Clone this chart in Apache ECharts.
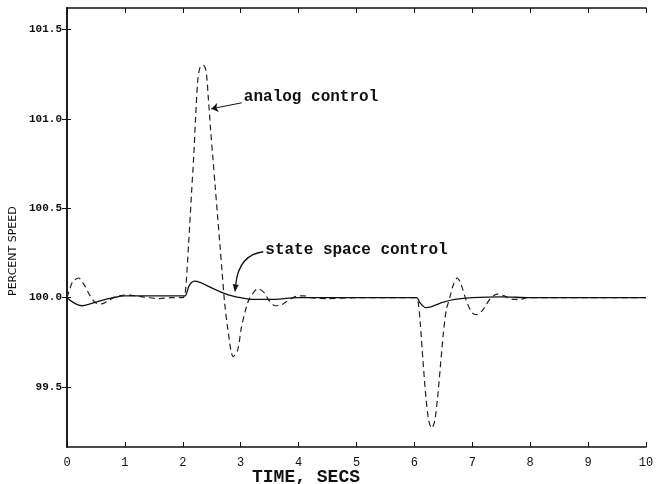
<!DOCTYPE html>
<html>
<head>
<meta charset="utf-8">
<script src="https://cdn.jsdelivr.net/npm/echarts@6/dist/echarts.min.js"></script>
<style>
html,body{margin:0;padding:0;background:#fff;}
#chart{width:666px;height:484px;}
</style>
</head>
<body>
<div id="chart"></div>
<script>
// time (s), percent speed
var analogTime = [0, 0.05, 0.1, 0.2, 0.3, 0.4, 0.5, 0.6, 0.7, 0.8, 0.9, 1.0, 1.2, 1.4, 1.6, 1.8, 2.0,
  2.04, 2.1, 2.15, 2.19, 2.22, 2.26, 2.3, 2.35, 2.4, 2.44, 2.48, 2.52, 2.56, 2.6, 2.64, 2.68, 2.72, 2.78, 2.87,
  2.95, 3.01, 3.1, 3.16, 3.3, 3.4, 3.5, 3.6, 3.7, 3.8, 3.9, 4.0, 4.1, 4.2, 4.5, 5.0, 5.5, 6.0,
  6.06, 6.1, 6.15, 6.2, 6.25, 6.3, 6.35, 6.4, 6.45, 6.5, 6.55, 6.61, 6.67, 6.74, 6.8, 6.9, 7.0, 7.08,
  7.2, 7.3, 7.43, 7.55, 7.7, 7.82, 7.95, 8.5, 9, 10];
var analogSpeed = [100.0, 100.05, 100.09, 100.11, 100.07, 100.01, 99.97, 99.965, 99.98, 100.0, 100.01, 100.015, 100.01, 100.0, 99.995, 100.0, 100.0,
  100.02, 100.3, 100.58, 100.8, 101.0, 101.22, 101.29, 101.30, 101.27, 101.12, 100.94, 100.78, 100.62, 100.46, 100.30, 100.14, 99.98, 99.82, 99.67,
  99.71, 99.83, 99.95, 100.0, 100.05, 100.03, 99.98, 99.955, 99.96, 99.98, 100.0, 100.01, 100.01, 100.0, 99.995, 100.0, 100.0, 100.0,
  99.98, 99.86, 99.64, 99.44, 99.31, 99.27, 99.31, 99.44, 99.62, 99.80, 99.93, 100.0, 100.07, 100.11, 100.08, 99.98, 99.915, 99.905,
  99.94, 99.99, 100.02, 100.01, 99.99, 99.99, 100.0, 100.0, 100.0, 100.0];

var stateTime = [0, 0.1, 0.2, 0.26, 0.4, 0.6, 0.8, 1.0, 1.5, 2.0, 2.04, 2.1, 2.15, 2.2, 2.3, 2.4, 2.6, 2.8, 3.0, 3.2, 3.5, 4.0, 6.0,
  6.04, 6.1, 6.2, 6.3, 6.5, 6.7, 7.0, 7.5, 8.0, 10];
var stateSpeed = [100.0, 99.975, 99.958, 99.955, 99.965, 99.985, 100.0, 100.01, 100.01, 100.01, 100.01, 100.06, 100.085, 100.093, 100.085, 100.07, 100.04, 100.015, 100.0, 99.99, 99.99, 100.0, 100.0,
  100.0, 99.97, 99.944, 99.95, 99.975, 99.99, 100.0, 100.005, 100.0, 100.0];

var xTicks = [0, 1, 2, 3, 4, 5, 6, 7, 8, 9, 10];
var yTicks = [99.5, 100.0, 100.5, 101.0, 101.5];

// annotation anchors in data coords: [time, speed]
var stateArrowFrom = [3.39, 100.257];
var stateArrowTo = [2.9, 100.03];

function pairs(xs, ys) {
  return xs.map(function (x, i) { return [x, ys[i]]; });
}

var mono = "'Liberation Mono', 'DejaVu Sans Mono', monospace";
var chart = echarts.init(document.getElementById('chart'));

var option = {
  backgroundColor: '#fff',
  animation: false,
  grid: { left: 67, right: 20, top: 8, bottom: 37 },
  xAxis: [{
    type: 'value', min: 0, max: 10, interval: 1,
    axisLine: { lineStyle: { color: '#111', width: 1.5 } },
    axisTick: { inside: true, length: 5, lineStyle: { color: '#111' } },
    axisLabel: { color: '#111', fontFamily: mono, fontSize: 12, margin: 10 },
    splitLine: { show: false }
  }, {
    type: 'value', min: 0, max: 10, interval: 1, position: 'top',
    axisLine: { show: true, lineStyle: { color: '#111', width: 1.5 } },
    axisTick: { show: true, inside: true, length: 5, lineStyle: { color: '#111' } },
    axisLabel: { show: false },
    splitLine: { show: false }
  }],
  yAxis: [{
    type: 'value', min: 99.165, max: 101.62,
    axisLine: { show: true, lineStyle: { color: '#111', width: 1.5 } },
    axisTick: { show: true, inside: true, length: 4, customValues: yTicks, lineStyle: { color: '#111' } },
    axisLabel: {
      customValues: yTicks, color: '#111', fontFamily: mono, fontWeight: 'bold', fontSize: 11, margin: 5,
      formatter: function (v) { return v.toFixed(1); }
    },
    splitLine: { show: false }
  }, {
    type: 'value', min: 99.165, max: 101.62, position: 'right',
    axisLine: { show: true, lineStyle: { color: '#111', width: 1.5 } },
    axisTick: { show: true, inside: true, length: 5, customValues: yTicks, lineStyle: { color: '#111' } },
    axisLabel: { show: false },
    splitLine: { show: false }
  }],
  series: [{
    name: 'analog control',
    type: 'line',
    data: pairs(analogTime, analogSpeed),
    smooth: 0.3,
    showSymbol: false,
    lineStyle: { color: '#222', width: 1.2, type: [6, 4] },
    markLine: {
      silent: true,
      symbol: ['none', 'arrow'],
      symbolSize: 7,
      lineStyle: { color: '#111', width: 1, type: 'solid' },
      label: { show: false },
      data: [[{ coord: [3.02, 101.09] }, { coord: [2.49, 101.056] }]]
    },
    markPoint: {
      symbol: 'circle', symbolSize: 0,
      label: {
        show: true, position: 'right', distance: 2, color: '#111',
        fontFamily: mono, fontWeight: 'bold', fontSize: 16,
        formatter: 'analog control'
      },
      data: [{ coord: [3.02, 101.12] }]
    }
  }, {
    name: 'state space control',
    type: 'line',
    data: pairs(stateTime, stateSpeed),
    smooth: 0.3,
    showSymbol: false,
    lineStyle: { color: '#111', width: 1.3 },
    markPoint: {
      symbol: 'circle', symbolSize: 0,
      label: {
        show: true, position: 'right', distance: 2, color: '#111',
        fontFamily: mono, fontWeight: 'bold', fontSize: 16,
        formatter: 'state space control'
      },
      data: [{ coord: [3.39, 100.265] }]
    }
  }],
  graphic: [{
    id: 'xTitle', type: 'text', left: 310 - 58, top: 468,
    style: { text: 'TIME, SECS', fill: '#111', font: 'bold 18px ' + mono }
  }, {
    id: 'yTitle', type: 'text', x: 8, y: 296, rotation: Math.PI / 2,
    style: { text: 'PERCENT SPEED', fill: '#111', font: '11px "DejaVu Sans", sans-serif' }
  }]
};

chart.setOption(option);

// curved arrow for "state space control", placed from data coords
var p0 = chart.convertToPixel({ gridIndex: 0 }, stateArrowFrom);
var p1 = chart.convertToPixel({ gridIndex: 0 }, stateArrowTo);
var cp = [p1[0] + 4, p0[1] + 3];
var dx = p1[0] - cp[0], dy = p1[1] - cp[1];
var len = Math.sqrt(dx * dx + dy * dy);
var ux = dx / len, uy = dy / len;
var headL = 8, headW = 3;
var base = [p1[0] - ux * headL, p1[1] - uy * headL];
chart.setOption({
  graphic: [{
    id: 'stateCurve', type: 'bezierCurve',
    shape: { x1: p0[0], y1: p0[1], x2: base[0], y2: base[1], cpx1: cp[0], cpy1: cp[1] },
    style: { stroke: '#111', lineWidth: 1.3, fill: null }
  }, {
    id: 'stateHead', type: 'polygon',
    shape: { points: [p1, [base[0] - uy * headW, base[1] + ux * headW], [base[0] + uy * headW, base[1] - ux * headW]] },
    style: { fill: '#111' }
  }]
});
</script>
</body>
</html>
